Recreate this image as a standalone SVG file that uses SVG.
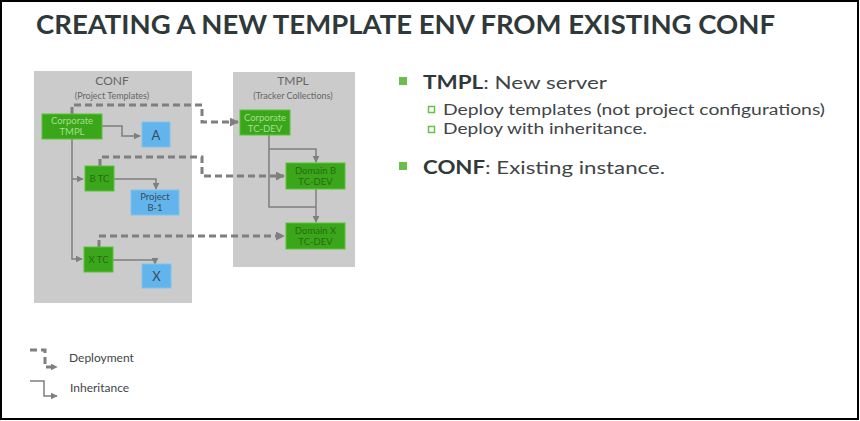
<svg xmlns="http://www.w3.org/2000/svg" width="860" height="421" viewBox="0 0 860 421">
<defs>
<style>
.panel{fill:#cbcbcb}
.g{fill:#3aa619;stroke:#5cc23a;stroke-width:1}
.b{fill:#62b5ec;stroke:#7cc3f0;stroke-width:1}
.gt{font-family:Lato,"Open Sans",sans-serif;font-size:9.5px;fill:#2a6a14;text-anchor:middle}
.gtl{font-family:Lato,"Open Sans",sans-serif;font-size:9.5px;fill:#a9dc92;text-anchor:middle}
.bt{font-family:Lato,"Open Sans",sans-serif;fill:#3a4b58;text-anchor:middle}
.pt{font-family:Lato,"Open Sans",sans-serif;fill:#666;text-anchor:middle}
.dep{fill:none;stroke:#7f7f7f;stroke-width:3;stroke-dasharray:7 4}
.inh{fill:none;stroke:#7f7f7f;stroke-width:1.5}
.txt{font-family:Lato,"Open Sans",sans-serif;fill:#3f4548}
.bold{font-weight:bold;fill:#2f3939}
</style>
<marker id="ah" viewBox="0 0 10 10" refX="9" refY="5" markerWidth="7" markerHeight="7" markerUnits="userSpaceOnUse" orient="auto"><path d="M0,0 L10,5 L0,10 z" fill="#7f7f7f"/></marker>
<marker id="ahd" viewBox="0 0 10 10" refX="9" refY="5" markerWidth="9" markerHeight="9" markerUnits="userSpaceOnUse" orient="auto"><path d="M0,0 L10,5 L0,10 z" fill="#7f7f7f"/></marker>
</defs>
<rect x="0" y="0" width="860" height="421" fill="#fff"/>
<rect x="1" y="1" width="857" height="418" fill="none" stroke="#000" stroke-width="2"/>
<text x="36" y="34" class="txt bold" font-size="26" textLength="739" lengthAdjust="spacingAndGlyphs" fill="#3a4242">CREATING A NEW TEMPLATE ENV FROM EXISTING CONF</text>

<g id="conf-panel">
<rect class="panel" x="34" y="71" width="158" height="232"/>
<text class="pt" x="112" y="85" font-size="12">CONF</text>
<text class="pt" x="112" y="99" font-size="9">(Project Templates)</text>
</g>
<g id="tmpl-panel">
<rect class="panel" x="233" y="72" width="122" height="195"/>
<text class="pt" x="293" y="85" font-size="12">TMPL</text>
<text class="pt" x="293" y="99" font-size="9">(Tracker Collections)</text>
</g>

<g id="connectors">
<path class="dep" d="M72,114 V105 H202 V122 H238" marker-end="url(#ahd)"/>
<path class="dep" d="M100,166 V157 H202 V176 H284" marker-end="url(#ahd)"/>
<path class="dep" d="M99,247 V236 H284" marker-end="url(#ahd)"/>
<path class="inh" d="M102,126 H122 V136 H140" marker-end="url(#ah)"/>
<path class="inh" d="M72,139 V259 H82" marker-end="url(#ah)"/>
<path class="inh" d="M72,179 H83" marker-end="url(#ah)"/>
<path class="inh" d="M114,179 H156 V189" marker-end="url(#ah)"/>
<path class="inh" d="M113,260 H155 V264" marker-end="url(#ah)"/>
<path class="inh" d="M269,135 V207 H316"/>
<path class="inh" d="M269,149 H316 V162" marker-end="url(#ah)"/>
<path class="inh" d="M316,189 V222" marker-end="url(#ah)"/>
</g>

<g id="corporate-tmpl">
<rect class="g" x="42" y="114" width="60" height="25"/>
<text class="gtl" x="72" y="124">Corporate</text>
<text class="gtl" x="72" y="135">TMPL</text>
</g>
<g id="node-a">
<rect class="b" x="142" y="122" width="28" height="25"/>
<text class="bt" x="156" y="140" font-size="13">A</text>
</g>
<g id="b-tc">
<rect class="g" x="85" y="166" width="29" height="25"/>
<text class="gt" x="99.5" y="182">B TC</text>
</g>
<g id="project-b1">
<rect class="b" x="131" y="190" width="48" height="25"/>
<text class="bt" x="155" y="200" font-size="9.5">Project</text>
<text class="bt" x="155" y="211" font-size="9.5">B-1</text>
</g>
<g id="x-tc">
<rect class="g" x="84" y="247" width="29" height="25"/>
<text class="gt" x="98.5" y="263">X TC</text>
</g>
<g id="node-x">
<rect class="b" x="142" y="264" width="29" height="24"/>
<text class="bt" x="156.5" y="281" font-size="13">X</text>
</g>
<g id="corporate-tcdev">
<rect class="g" x="240" y="110" width="50" height="25"/>
<text class="gtl" x="265" y="121">Corporate</text>
<text class="gtl" x="265" y="132">TC-DEV</text>
</g>
<g id="domain-b-tcdev">
<rect class="g" x="286" y="163" width="59" height="26"/>
<text class="gt" x="315.5" y="174">Domain B</text>
<text class="gt" x="315.5" y="185">TC-DEV</text>
</g>
<g id="domain-x-tcdev">
<rect class="g" x="286" y="223" width="59" height="26"/>
<text class="gt" x="315.5" y="234">Domain X</text>
<text class="gt" x="315.5" y="245">TC-DEV</text>
</g>

<g id="legend">
<path class="dep" d="M30,350 H45 V367 H57" stroke-width="2.5" stroke-dasharray="6 3" marker-end="url(#ah)"/>
<text class="txt" x="69" y="362" font-size="12" fill="#555">Deployment</text>
<path class="inh" d="M30,381 H44 V396 H57" marker-end="url(#ah)"/>
<text class="txt" x="70" y="392" font-size="12" fill="#555">Inheritance</text>
</g>

<g id="bullets">
<rect x="399" y="77" width="8" height="8" fill="#6abf4b"/>
<text class="txt" x="423" y="89" font-size="18" textLength="184" lengthAdjust="spacingAndGlyphs"><tspan class="bold">TMPL</tspan>: New server</text>
<rect x="428.5" y="106.5" width="6" height="6" fill="none" stroke="#6abf4b" stroke-width="1.5"/>
<text class="txt" x="443" y="115" font-size="15.5" textLength="382" lengthAdjust="spacingAndGlyphs">Deploy templates (not project configurations)</text>
<rect x="428.5" y="126.5" width="6" height="6" fill="none" stroke="#6abf4b" stroke-width="1.5"/>
<text class="txt" x="443" y="134" font-size="15.5" textLength="204" lengthAdjust="spacingAndGlyphs">Deploy with inheritance.</text>
<rect x="399" y="162" width="8" height="8" fill="#6abf4b"/>
<text class="txt" x="423" y="174" font-size="18" textLength="242" lengthAdjust="spacingAndGlyphs"><tspan class="bold">CONF</tspan>: Existing instance.</text>
</g>
</svg>
